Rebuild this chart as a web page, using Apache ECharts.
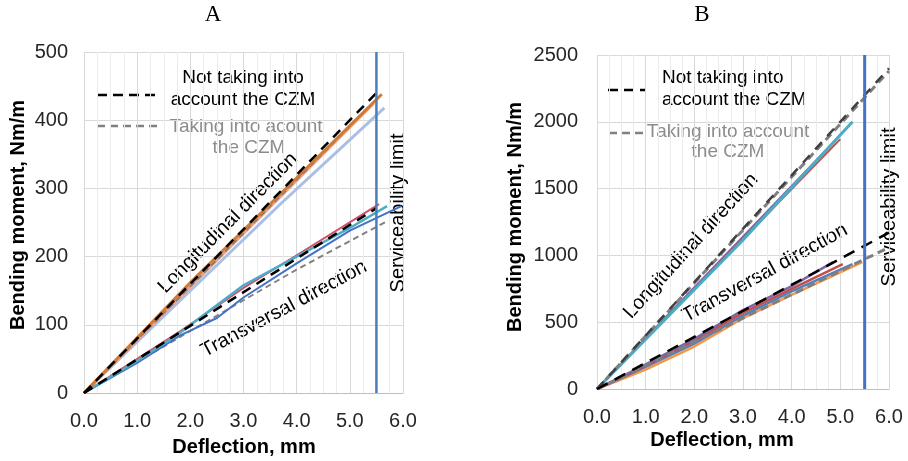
<!DOCTYPE html>
<html>
<head>
    <meta charset="utf-8">
    <script src="https://cdn.jsdelivr.net/npm/echarts@6/dist/echarts.min.js"></script>
</head>
<body style="margin:0;background:#fff;">
<div id="main" style="width: 908px;height:461px;"></div>
</body>
<script>
    // panel A: deflection (mm) vs bending moment (Nm/m)
    var aLongNoCzm = [[0, 0], [5.5, 440]];
    var aLongCzm = [[0, 0], [5.5, 430]];
    var aLongOrange = [[0, 0], [2, 162], [5.6, 438]];
    var aLongSalmon = [[0, 0], [5.45, 425]];
    var aLongLightBlue = [[0, 0], [3.68, 276], [5.65, 418]];
    var aTransNoCzm = [[0, 0], [5.5, 271]];
    var aTransCzm = [[0, 0], [1.8, 82], [3, 136], [4, 181], [5.7, 252]];
    var aTransRed = [[0, 0], [1, 50], [1.8, 90], [3, 154], [4, 202], [5.55, 277]];
    var aTransTeal = [[0, 0], [1, 47], [1.8, 88], [3, 158], [4, 200], [5, 242], [5.7, 274]];
    var aTransBlue = [[0, 0], [1, 44], [1.8, 84], [2.5, 110], [3, 140], [4, 190], [5, 238], [5.97, 274]];
    var aLimit = [[5.5, 0], [5.5, 500]];

    // panel B
    var bLongNoCzm = [[0, 0], [6, 2400]];
    var bLongCzm = [[0, 0], [6, 2380]];
    var bLongCyan = [[0, 0], [3, 1115], [5.25, 2000]];
    var bLongRed = [[0, 0], [5.0, 1870]];
    var bLongPurple = [[0, 0], [4.9, 1860]];
    var bTransNoCzm = [[0, 0], [6, 1170]];
    var bTransCzm = [[0, 0], [6, 1060]];
    var bTransPurple = [[0, 0], [1, 185], [2, 375], [3, 590], [4, 770], [4.85, 950]];
    var bTransRed = [[0, 0], [1, 175], [2, 360], [3, 570], [4, 750], [5.05, 935]];
    var bTransBlue = [[0, 0], [1, 165], [2, 340], [3, 550], [4, 730], [5.25, 935]];
    var bTransOrange = [[0, 0], [1, 145], [2, 318], [3, 530], [4, 705], [5.45, 950]];
    var bLimit = [[5.5, 0], [5.5, 2500]];

    var font = 'Liberation Sans, Arial, sans-serif';
    var serif = 'Liberation Serif, Times New Roman, serif';

    function xAxis(idx) {
        return {
            type: 'value', gridIndex: idx, min: 0, max: 6, interval: 1,
            axisLine: { show: true, lineStyle: { color: '#bfbfbf' } },
            axisTick: { show: false },
            axisLabel: { margin: 18, fontSize: 20, color: '#262626', fontFamily: font,
                formatter: function (v) { return v.toFixed(1); } },
            splitLine: { show: true, lineStyle: { color: '#d9d9d9' } },
            minorTick: { show: false, splitNumber: 4 },
            minorSplitLine: { show: true, lineStyle: { color: '#ececec' } }
        };
    }
    function yAxis(idx, max, interval, margin) {
        return {
            type: 'value', gridIndex: idx, min: 0, max: max, interval: interval,
            axisLine: { show: false },
            axisTick: { show: false },
            axisLabel: { margin: margin, fontSize: 20, color: '#262626', fontFamily: font,
                formatter: function (v) { return String(v); } },
            splitLine: { show: true, lineStyle: { color: '#d9d9d9' } }
        };
    }
    function line(idx, data, color, width, dash, z) {
        return {
            type: 'line', xAxisIndex: idx, yAxisIndex: idx, data: data,
            showSymbol: false, silent: true, z: z || 2,
            lineStyle: { color: color, width: width, type: dash || 'solid' }
        };
    }
    function txt(x, y, s, size, rot, color, weight, align, family) {
        return {
            type: 'text', x: x, y: y, rotation: rot || 0,
            style: { text: s, fontSize: size, fontFamily: family || font, fill: color || '#000',
                fontWeight: weight || 'normal', textAlign: align || 'center', textVerticalAlign: 'middle' }
        };
    }
    function seg(x1, x2, y, color, width, dash) {
        return {
            type: 'line', shape: { x1: x1, y1: y, x2: x2, y2: y },
            style: { stroke: color, lineWidth: width, lineDash: dash }
        };
    }

    var myChart = echarts.init(document.getElementById('main'));
    var option = {
        animation: false,
        backgroundColor: '#fff',
        grid: [
            { left: 84, right: 505, top: 52, bottom: 68 },
            { left: 597, right: 19, top: 55, bottom: 72 }
        ],
        xAxis: [xAxis(0), xAxis(1)],
        yAxis: [yAxis(0, 500, 100, 16), yAxis(1, 2500, 500, 19)],
        series: [
            line(0, aLongLightBlue, '#a9c0e4', 3),
            line(0, aLongSalmon, '#e9a08a', 3),
            line(0, aLongCzm, '#808080', 2, [6, 4]),
            line(0, aLongOrange, '#d4792f', 3),
            line(0, aLongNoCzm, '#000', 2.5, [10, 7], 3),
            line(0, aTransCzm, '#808080', 2, [6, 4]),
            line(0, aTransBlue, '#4472c4', 2),
            line(0, aTransRed, '#d0506a', 2),
            line(0, aTransTeal, '#4bacc6', 2.5),
            line(0, aTransNoCzm, '#000', 2.5, [10, 7], 3),
            line(0, aLimit, '#4a7ebb', 2.5, 'solid', 4),

            line(1, bLongPurple, '#8064a2', 2.5),
            line(1, bLongRed, '#c0504d', 2),
            line(1, bLongCyan, '#4bacc6', 3),
            line(1, bLongCzm, '#808080', 3, [8, 5], 3),
            line(1, bLongNoCzm, '#404040', 2.5, [10, 8], 3),
            line(1, bTransOrange, '#f79646', 2.5),
            line(1, bTransBlue, '#4f81bd', 2.5),
            line(1, bTransRed, '#c0504d', 2.5),
            line(1, bTransPurple, '#8064a2', 2.5),
            line(1, bTransCzm, '#808080', 3, [8, 5], 3),
            line(1, bTransNoCzm, '#000', 2.5, [12, 8], 3),
            line(1, bLimit, '#4472c4', 3, 'solid', 4)
        ],
        graphic: [
            txt(213, 15, 'A', 23, 0, '#000', 'normal', 'center', serif),
            txt(702, 15, 'B', 23, 0, '#000', 'normal', 'center', serif),
            // axis titles
            txt(18, 215, 'Bending moment, Nm/m', 20, Math.PI / 2, '#000', 'bold'),
            txt(244, 447, 'Deflection, mm', 20, 0, '#000', 'bold'),
            txt(515, 217, 'Bending moment, Nm/m', 20, Math.PI / 2, '#000', 'bold'),
            txt(722, 440, 'Deflection, mm', 20, 0, '#000', 'bold'),
            // panel A notes
            seg(97, 160, 95, '#000', 2.5, [10, 6]),
            txt(243, 78, 'Not taking into', 19),
            txt(243, 100, 'account the CZM', 19),
            seg(97, 160, 126, '#808080', 2.5, [8, 5]),
            txt(246, 127, 'Taking into acount', 19, 0, '#8c8c8c'),
            txt(249, 148, 'the CZM', 19, 0, '#8c8c8c'),
            txt(228, 223, 'Longitudinal direction', 20, 0.79),
            txt(284, 309, 'Transversal direction', 20, 0.49),
            txt(398, 213, 'Serviceability limit', 20, Math.PI / 2),
            // panel B notes
            seg(608, 646, 90, '#000', 2.5, [10, 6]),
            txt(662, 78, 'Not taking into', 19, 0, '#000', 'normal', 'left'),
            txt(662, 100, 'account the CZM', 19, 0, '#000', 'normal', 'left'),
            seg(609, 644, 133, '#808080', 2.5, [8, 5]),
            txt(728, 132, 'Taking into account', 19, 0, '#8c8c8c'),
            txt(728, 152, 'the CZM', 19, 0, '#8c8c8c'),
            txt(691, 246, 'Longitudinal direction', 20, 0.83),
            txt(765, 273, 'Transversal direction', 20, 0.5),
            txt(889, 207, 'Serviceability limit', 20, Math.PI / 2)
        ]
    };
    myChart.setOption(option);
</script>
</html>
